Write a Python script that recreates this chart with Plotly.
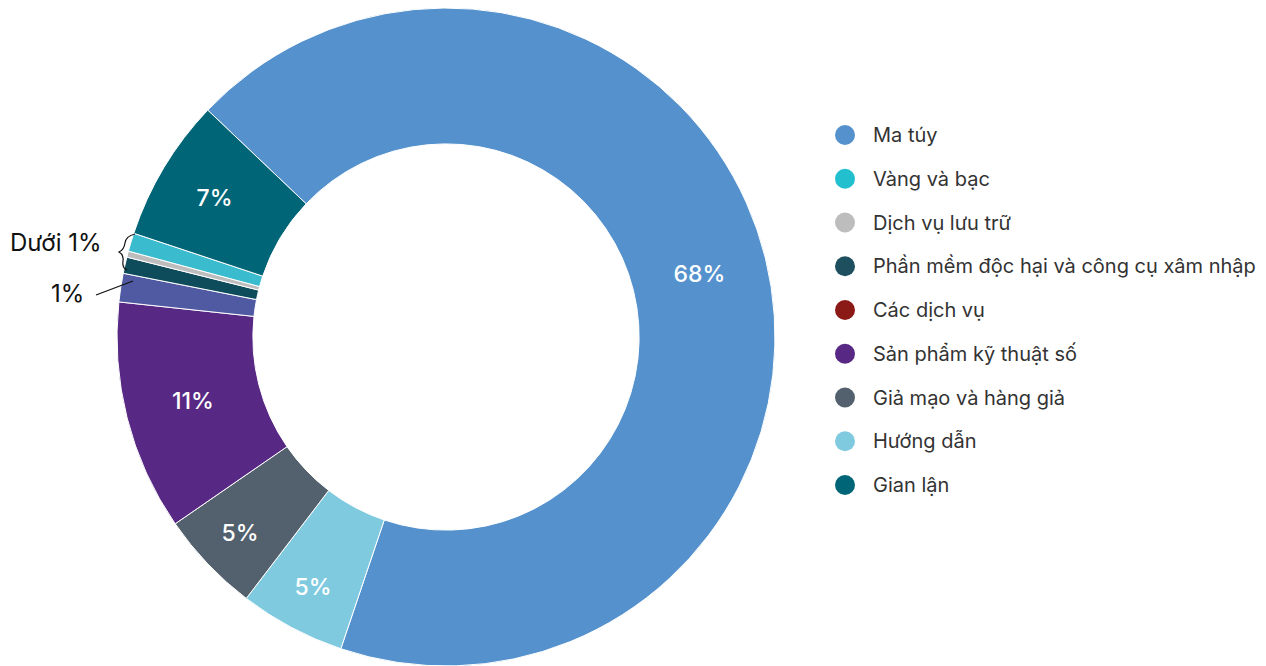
import plotly.graph_objects as go

W, H = 1266, 666

# Slice order around the ring (clockwise from the upper-left boundary)
labels = ["Ma túy", "Hướng dẫn", "Giả mạo và hàng giả", "Sản phẩm kỹ thuật số",
          "Các dịch vụ", "Phần mềm độc hại và công cụ xâm nhập", "Dịch vụ lưu trữ",
          "Vàng và bạc", "Gian lận"]
values = [68.0, 5.2, 5.0, 11.3, 1.4, 0.8, 0.3, 0.9, 7.0]
slice_colors = ["#5592CD", "#80CADF", "#53606D", "#572984", "#505AA3",
                "#0F4C5B", "#BDBDBD", "#3BBCCE", "#006577"]
show_label = [True, True, True, True, False, False, False, False, True]

# Legend entries (own order and swatch colours)
legend_labels = ["Ma túy", "Vàng và bạc", "Dịch vụ lưu trữ",
                 "Phần mềm độc hại và công cụ xâm nhập", "Các dịch vụ",
                 "Sản phẩm kỹ thuật số", "Giả mạo và hàng giả", "Hướng dẫn", "Gian lận"]
legend_colors = ["#5592CD", "#22BFCF", "#BDBDBD", "#1D4F5F", "#8B1A17",
                 "#572984", "#53606D", "#80CADF", "#006577"]

FONT = "Inter, 'Liberation Sans', Arial, sans-serif"


def px(x, y):
    return x / W, 1 - y / H


fig = go.Figure()
fig.add_trace(go.Pie(
    labels=labels,
    values=values,
    sort=False,
    direction="clockwise",
    rotation=-46.4,
    hole=0.587,
    marker=dict(colors=slice_colors, line=dict(color="white", width=1)),
    texttemplate=["%{percent:.0%}" if s else "" for s in show_label],
    textposition="inside",
    insidetextorientation="horizontal",
    textfont=dict(family=FONT, size=23, color="white", weight=500),
    showlegend=False,
    hoverinfo="label+percent",
    domain=dict(x=[117 / W, 775 / W], y=[0, 1 - 8 / H]),
))

shapes = []
annotations = []

# Custom legend: round swatches with labels
for i, (lab, col) in enumerate(zip(legend_labels, legend_colors)):
    yc = 135 + i * 43.75
    ax, ay = px(845, yc)
    shapes.append(dict(type="circle", xref="paper", yref="paper",
                       xsizemode="pixel", ysizemode="pixel",
                       xanchor=ax, yanchor=ay, x0=-10, x1=10, y0=-10, y1=10,
                       fillcolor=col, line=dict(width=0)))
    tx, ty = px(871, yc)
    annotations.append(dict(x=tx, y=ty, xref="paper", yref="paper",
                            text=lab, showarrow=False, xanchor="left", yanchor="middle",
                            font=dict(family=FONT, size=20, color="#333333")))

# Callouts for the thin slices
x1, y1 = px(8, 242)
annotations.append(dict(x=x1, y=y1, xref="paper", yref="paper", text="Dưới 1%",
                        showarrow=False, xanchor="left", yanchor="middle",
                        font=dict(family=FONT, size=24, color="#111111")))
x2, y2 = px(86, 293)
annotations.append(dict(x=x2, y=y2, xref="paper", yref="paper", text="1%",
                        showarrow=False, xanchor="right", yanchor="middle",
                        font=dict(family=FONT, size=24, color="#111111")))

la, lb = px(96, 295), px(133, 281)
shapes.append(dict(type="line", xref="paper", yref="paper",
                   x0=la[0], y0=la[1], x1=lb[0], y1=lb[1],
                   line=dict(color="#111111", width=1.3)))

# Curly brace spanning the sub-1% slices
pts = [(135, 234), (126, 236), (125, 243), (124, 250), (119, 252),
       (124, 255), (123, 261), (122, 268), (127, 270)]
P = [px(x, y) for x, y in pts]
path = (f"M {P[0][0]},{P[0][1]} Q {P[1][0]},{P[1][1]} {P[2][0]},{P[2][1]} "
        f"Q {P[3][0]},{P[3][1]} {P[4][0]},{P[4][1]} "
        f"Q {P[5][0]},{P[5][1]} {P[6][0]},{P[6][1]} "
        f"Q {P[7][0]},{P[7][1]} {P[8][0]},{P[8][1]}")
shapes.append(dict(type="path", xref="paper", yref="paper", path=path,
                   line=dict(color="#111111", width=1.2)))

fig.update_layout(
    width=W, height=H,
    margin=dict(l=0, r=0, t=0, b=0),
    paper_bgcolor="white",
    plot_bgcolor="white",
    shapes=shapes,
    annotations=annotations,
    font=dict(family=FONT),
)

fig.write_html("out.html")
